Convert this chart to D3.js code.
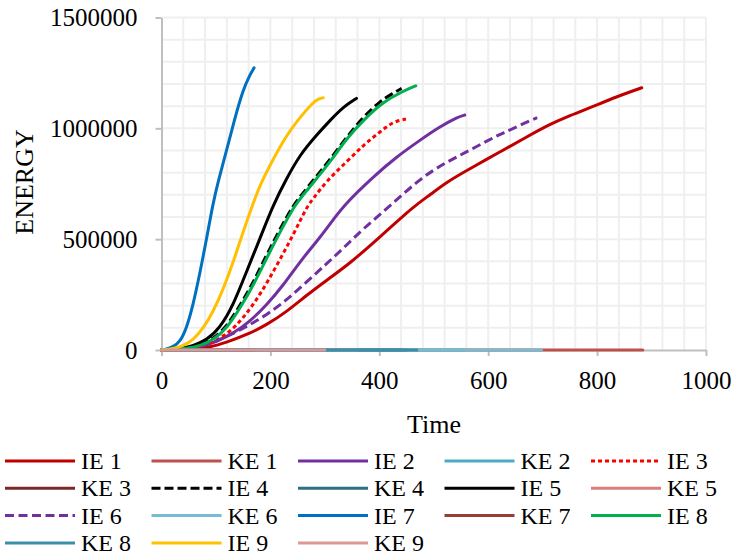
<!DOCTYPE html>
<meta charset="utf-8">
<style>
body { margin: 0; background: #fff; }
text { font-family: "Liberation Serif", "Times New Roman", "DejaVu Serif", serif; fill: #000; }
</style>
<svg width="732" height="556"></svg>
<script src="https://d3js.org/d3.v7.min.js"></script>
<script>

// internal energy curves (time, energy)
var ie1T = [0,58,89,120,156,193,230,267,304,346,395,466,493,524,573,622,671,713,744,787,836,882];
var ie1E = [0,4000,12000,35000,68000,113000,173000,248000,316000,391000,496000,654000,699000,759000,827000,894000,962000,1018000,1052000,1093000,1143000,1183000];
var ie2T = [0,71,101,132,162,193,224,254,285,310,335,389,432,475,511,545,557];
var ie2E = [0,12000,37000,75000,128000,203000,293000,398000,489000,570000,654000,782000,872000,947000,1007000,1052000,1060000];
var ie3T = [0,64,89,120,150,181,212,242,267,279,304,340,371,402,425,449];
var ie3E = [0,8000,30000,68000,143000,248000,383000,519000,647000,684000,765000,849000,925000,985000,1030000,1042000];
var ie4T = [0,44,68,92,117,141,166,190,215,242,257,282,307,337,368,400,425,441];
var ie4E = [0,6000,19000,45000,98000,188000,293000,414000,534000,654000,699000,776000,852000,950000,1045000,1120000,1158000,1180000];
var ie5T = [0,35,58,83,107,132,156,181,205,230,254,285,310,334,358];
var ie5E = [0,6000,19000,45000,98000,203000,353000,504000,654000,775000,880000,970000,1037000,1097000,1135000];
var ie6T = [0,64,89,120,156,193,230,267,304,334,371,422,475,524,567,616,631,659,690];
var ie6E = [0,8000,30000,60000,105000,158000,226000,308000,391000,459000,549000,654000,774000,849000,902000,967000,982000,1015000,1048000];
var ie7T = [0,6,22,34,46,58,71,83,94,104,119,134,150,161,170];
var ie7E = [0,2000,15000,37000,98000,203000,353000,504000,654000,760000,895000,1040000,1175000,1235000,1273000];
var ie8T = [0,46,71,95,120,144,169,193,218,245,260,285,310,340,371,407,444,467];
var ie8E = [0,6000,19000,45000,98000,188000,293000,414000,534000,654000,699000,774000,849000,955000,1037000,1120000,1168000,1192000];
var ie9T = [0,22,40,58,77,95,114,132,150,167,181,199,230,248,279,290,297];
var ie9E = [0,6000,19000,45000,98000,173000,278000,398000,534000,654000,744000,834000,970000,1030000,1120000,1135000,1138000];

// kinetic energy stays at ~0 for the whole run
var keEnd = [884, 557, 449, 441, 358, 698, 170, 469, 300];
var keE = [0, 0];

var names = ["IE 1","KE 1","IE 2","KE 2","IE 3","KE 3","IE 4","KE 4","IE 5","KE 5",
             "IE 6","KE 6","IE 7","KE 7","IE 8","KE 8","IE 9","KE 9"];
var colors = ["#C00000","#C0504D","#7030A0","#4BACC6","#FF0000","#772C2A","#000000","#2E7083","#000000","#D97F7C",
              "#7030A0","#75BDD3","#0070C0","#9B3B38","#00B050","#3B8FA9","#FFC000","#DA9896"];
var dashes = [null,null,null,null,"4,3",null,"9,4",null,null,null,
              "9,4.5",null,null,null,null,null,null,null];

var xTicks = [0,200,400,600,800,1000];
var yTicks = [0,500000,1000000,1500000];

var ieT = [ie1T,ie2T,ie3T,ie4T,ie5T,ie6T,ie7T,ie8T,ie9T];
var ieE = [ie1E,ie2E,ie3E,ie4E,ie5E,ie6E,ie7E,ie8E,ie9E];

var series = [];
for (var i = 0; i < 9; i++) {
  series.push(ieT[i].map(function(t, j) { return [t, ieE[i][j]]; }));
  series.push([[0, keE[0]], [keEnd[i], keE[1]]]);
}

var svg = d3.select("svg");
var x = d3.scaleLinear().domain([0, 1000]).range([161.5, 706]);
var y = d3.scaleLinear().domain([0, 1500000]).range([350, 17.5]);

// gridlines
var grid = svg.append("g");
grid.selectAll(".gx").data(d3.range(40, 1001, 40)).enter().append("line")
    .attr("x1", x).attr("x2", x).attr("y1", y(0)).attr("y2", y(1500000))
    .attr("stroke", "#efefef").attr("stroke-width", 2);
grid.selectAll(".gy").data(d3.range(100000, 1500001, 100000)).enter().append("line")
    .attr("x1", x(0)).attr("x2", x(1000)).attr("y1", y).attr("y2", y)
    .attr("stroke", "#efefef").attr("stroke-width", 2);

// axes
var xAxis = svg.append("g").attr("transform", "translate(0," + y(0) + ")")
    .call(d3.axisBottom(x).tickValues(xTicks).tickSize(6).tickSizeOuter(0).tickPadding(15)
      .tickFormat(d3.format("d")));
var yAxis = svg.append("g").attr("transform", "translate(" + x(0) + ",0)")
    .call(d3.axisLeft(y).tickValues(yTicks).tickSize(6).tickSizeOuter(0).tickPadding(18)
      .tickFormat(d3.format("d")));
[xAxis, yAxis].forEach(function(a) {
  a.attr("font-family", null);
  a.selectAll("path, line").attr("stroke", "#bfbfbf").attr("stroke-width", 2);
  a.selectAll("text").attr("font-size", 25).attr("fill", "#000");
});

// lines
var line = d3.line().x(function(d) { return x(d[0]); }).y(function(d) { return y(d[1]); })
    .curve(d3.curveBasis);
svg.append("g").selectAll("path").data(series).enter().append("path")
    .attr("d", line)
    .attr("fill", "none")
    .attr("stroke", function(d, i) { return colors[i]; })
    .attr("stroke-width", 3)
    .attr("stroke-dasharray", function(d, i) { return dashes[i]; })
    .attr("stroke-linecap", function(d, i) { return dashes[i] ? "butt" : "round"; });

// axis titles
svg.append("text").attr("x", 434).attr("y", 433).attr("text-anchor", "middle")
    .attr("font-size", 26).text("Time");
svg.append("text").attr("transform", "translate(33,182) rotate(-90)").attr("text-anchor", "middle")
    .attr("font-size", 26).text("ENERGY");

// legend
var leg = svg.append("g").selectAll("g").data(names).enter().append("g")
    .attr("transform", function(d, i) {
      return "translate(" + (5 + (i % 5) * 146.5) + "," + (461 + Math.floor(i / 5) * 27.3) + ")";
    });
leg.append("line").attr("x1", 0).attr("x2", 70).attr("y1", 0).attr("y2", 0)
    .attr("stroke", function(d, i) { return colors[i]; })
    .attr("stroke-width", 3)
    .attr("stroke-dasharray", function(d, i) { return dashes[i]; });
leg.append("text").attr("x", 76).attr("y", 8).attr("font-size", 24).text(function(d) { return d; });

</script>
